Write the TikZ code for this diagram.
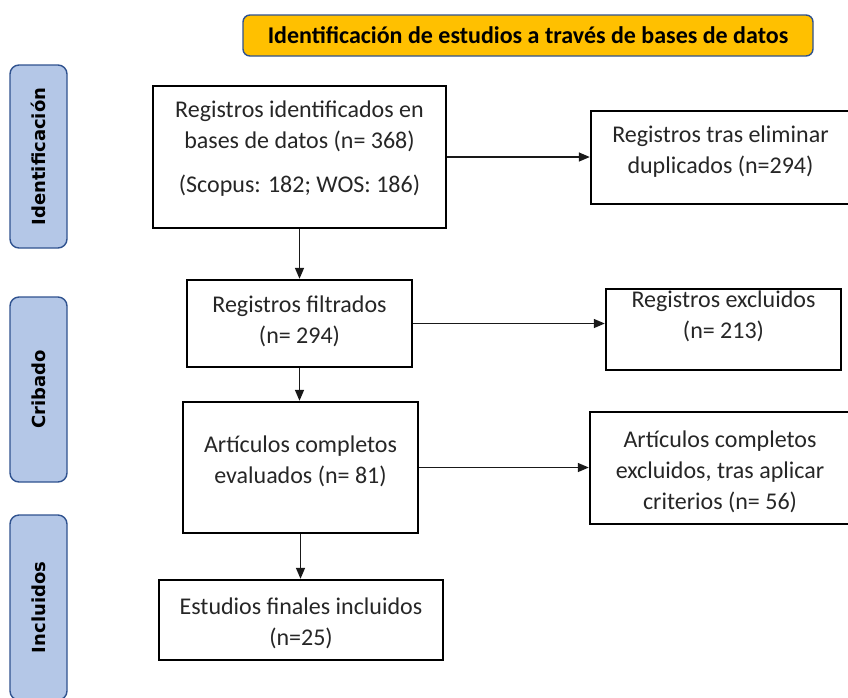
\documentclass[tikz,border=0pt]{standalone}
\usepackage{fontspec}
\setmainfont{Carlito}
\newfontfamily\phasefont{DejaVu Sans}
\usepackage{tikz}
\usetikzlibrary{arrows.meta, positioning}

\definecolor{headerfill}{HTML}{FFC000}
\definecolor{phasefill}{HTML}{B4C7E7}
\definecolor{phaseline}{HTML}{2F528F}

\begin{document}
\begin{tikzpicture}[
    x=1pt, y=-1pt,
    >={Triangle[length=11pt, width=9pt]},
    box style/.style={draw=black, line width=2.4pt, inner sep=0pt},
    text style/.style={font=\fontsize{24}{31}\selectfont, text=black!85, align=center},
    phase style/.style={draw=phaseline, fill=phasefill, line width=1.4pt, rounded corners=9pt,
        minimum width=57pt, inner sep=0pt},
    phase text/.style={font=\phasefont\bfseries\fontsize{18}{21}\selectfont, rotate=90},
    header style/.style={draw=phaseline, fill=headerfill, line width=1.4pt, rounded corners=7pt,
        minimum width=570pt, minimum height=41pt, font=\bfseries\fontsize{24}{28}\selectfont},
    arrow style/.style={line width=1.4pt, black!90, ->}
]

% Fix the page size
\useasboundingbox (0,0) rectangle (848,697);

% Draw the header
\node[header style] (header) at (528,35.5) {Identificación de estudios a través de bases de datos};

% Draw the phase bars on the left
\node[phase style, minimum height=183pt] (identificacion) at (38.5,156.5) {};
\node[phase text] at (identificacion) {Identificación};
\node[phase style, minimum height=185pt] (cribado) at (38.5,389.5) {};
\node[phase text] at (cribado) {Cribado};
\node[phase style, minimum height=185pt] (incluidos) at (38.5,607.5) {};
\node[phase text] at (incluidos) {Incluidos};

% Draw the boxes of the flow
\node[box style, minimum width=293pt, minimum height=142pt,
    label={[text style, yshift=8pt]center:{Registros identificados en\\bases de datos (n= 368)\\[13pt](Scopus: 182; WOS: 186)}}]
    (idreg) at (299.5,157) {};
\node[box style, minimum width=259pt, minimum height=93pt,
    label={[text style, yshift=6pt]center:{Registros tras eliminar\\duplicados (n=294)}}]
    (dupl) at (720.5,157.5) {};
\node[box style, minimum width=225pt, minimum height=87pt,
    label={[text style, yshift=2.5pt]center:{Registros filtrados\\(n= 294)}}]
    (filt) at (299.5,323.5) {};
\node[box style, minimum width=235pt, minimum height=81pt,
    label={[text style, yshift=13pt]center:{Registros excluidos\\(n= 213)}}]
    (excl) at (723.5,329.5) {};
\node[box style, minimum width=235pt, minimum height=131pt,
    label={[text style, yshift=6.5pt]center:{Artículos completos\\evaluados (n= 81)}}]
    (eval) at (300.5,467.5) {};
\node[box style, minimum width=260pt, minimum height=112pt,
    label={[text style, yshift=-3.5pt]center:{Artículos completos\\excluidos, tras aplicar\\criterios (n= 56)}}]
    (crit) at (720,468) {};
\node[box style, minimum width=284pt, minimum height=80pt,
    label={[text style, yshift=-3pt]center:{Estudios finales incluidos\\(n=25)}}]
    (final) at (301,620) {};

% Draw the arrows
\draw[arrow style] (idreg.east) -- (idreg.east -| dupl.west);
\draw[arrow style] (idreg.south) -- (idreg.south |- filt.north);
\draw[arrow style] (filt.east) -- (filt.east -| excl.west);
\draw[arrow style] (filt.south) -- (filt.south |- eval.north);
\draw[arrow style] (eval.east) -- (eval.east -| crit.west);
\draw[arrow style] (eval.south) -- (eval.south |- final.north);
\end{tikzpicture}
\end{document}
